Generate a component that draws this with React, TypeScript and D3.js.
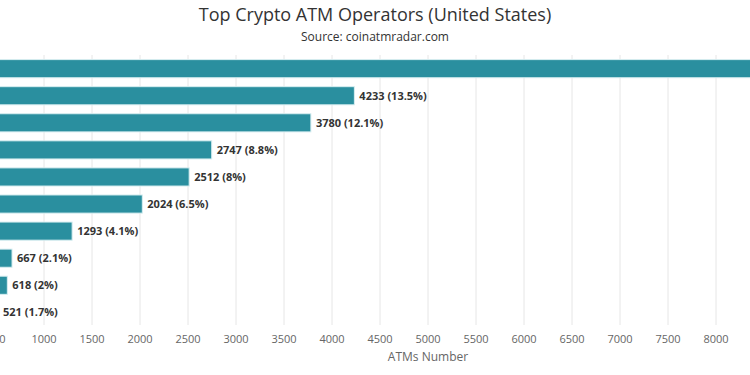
import React, { useEffect, useRef } from "react";
import * as d3 from "d3";

// operators ranked by ATM count (names sit off the visible crop)
const ranks = ["#1", "#2", "#3", "#4", "#5", "#6", "#7", "#8", "#9", "#10"];
const atms = [8900, 4233, 3780, 2747, 2512, 2024, 1293, 667, 618, 521];
const shares = ["28.4%", "13.5%", "12.1%", "8.8%", "8%", "6.5%", "4.1%", "2.1%", "2%", "1.7%"];
const xTicks = [500, 1000, 1500, 2000, 2500, 3000, 3500, 4000, 4500, 5000, 5500, 6000, 6500, 7000, 7500, 8000];

const W = 750;
const H = 375;
const FONT = "'Open Sans', 'Lucida Grande', sans-serif";

const App: React.FC = () => {
  const ref = useRef<SVGSVGElement | null>(null);

  useEffect(() => {
    if (!ref.current) return;
    const svg = d3.select(ref.current);
    svg.selectAll("*").remove();

    const top = 55;
    const bottom = 325;

    // plot is wider than the crop; zero sits left of the frame
    const x = d3.scaleLinear().domain([0, 8000]).range([-52, 716]);
    const y = d3.scaleBand().domain(ranks).range([top, bottom + 1]).paddingInner(0.33).paddingOuter(0.17);

    svg.append("rect").attr("width", W).attr("height", H).attr("fill", "#fff");

    svg.append("text")
      .attr("x", W / 2).attr("y", 21)
      .attr("text-anchor", "middle")
      .style("font-family", FONT).style("font-size", "18px").attr("fill", "#333")
      .text("Top Crypto ATM Operators (United States)");

    svg.append("text")
      .attr("x", W / 2).attr("y", 41)
      .attr("text-anchor", "middle")
      .style("font-family", FONT).style("font-size", "12px").attr("fill", "#333")
      .text("Source: coinatmradar.com");

    // gridlines
    svg.append("g").selectAll("line")
      .data(xTicks)
      .enter().append("line")
      .attr("x1", (d) => x(d)).attr("x2", (d) => x(d))
      .attr("y1", top).attr("y2", bottom)
      .attr("stroke", "#e6e6e6").attr("stroke-width", 1);

    // tick labels
    svg.append("g").selectAll("text")
      .data(xTicks)
      .enter().append("text")
      .attr("x", (d) => x(d)).attr("y", 343)
      .attr("text-anchor", "middle")
      .style("font-family", FONT).style("font-size", "11px").attr("fill", "#666")
      .text((d) => d);

    svg.append("text")
      .attr("x", 428).attr("y", 361)
      .attr("text-anchor", "middle")
      .style("font-family", FONT).style("font-size", "12px").attr("fill", "#666")
      .text("ATMs Number");

    const rows = ranks.map((r, i) => ({ r, v: atms[i], s: shares[i] }));

    svg.append("g").selectAll("rect")
      .data(rows)
      .enter().append("rect")
      .attr("x", x(0))
      .attr("y", (d) => y(d.r)!)
      .attr("width", (d) => x(d.v) - x(0))
      .attr("height", y.bandwidth())
      .attr("fill", "#2a8f9f")
      .attr("stroke", "#d8eef1").attr("stroke-width", 1);

    // data labels; ones that would fall past the frame are cropped away
    svg.append("g").selectAll("text")
      .data(rows.filter((d) => x(d.v) + 5 < W))
      .enter().append("text")
      .attr("x", (d) => x(d.v) + 5)
      .attr("y", (d) => y(d.r)! + y.bandwidth() / 2)
      .attr("dy", "0.35em")
      .style("font-family", FONT).style("font-size", "11px").style("font-weight", "bold")
      .attr("fill", "#333")
      .text((d) => `${d.v} (${d.s})`);
  }, []);

  return (
    <svg ref={ref} width={W} height={H} style={{ position: "absolute", left: 0, top: 0, display: "block" }} />
  );
};

export default App;
